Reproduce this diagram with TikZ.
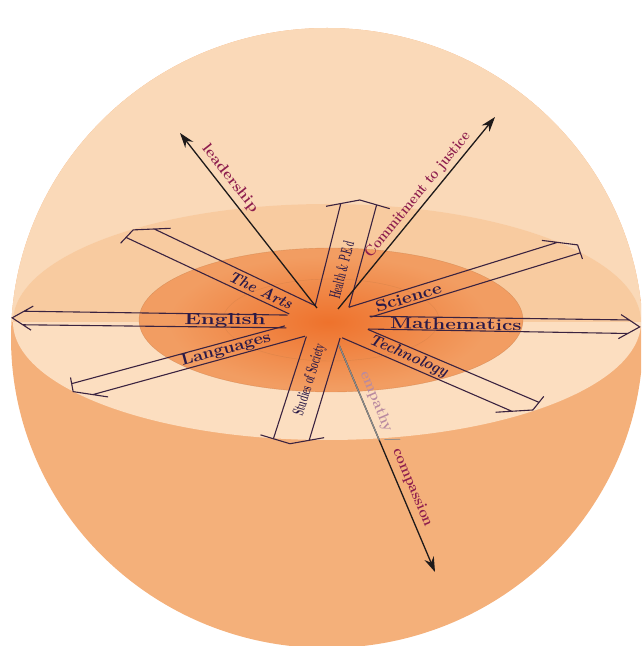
\documentclass[tikz,border=0pt]{standalone}
\usepackage{graphicx}
\usetikzlibrary{arrows.meta}
\definecolor{lowcol}{HTML}{F4B07A}
\definecolor{domecol}{HTML}{FAD9B8}
\definecolor{backcol}{HTML}{F8CBA0}
\definecolor{frontcol}{HTML}{FCDEC0}
\definecolor{corecol}{HTML}{F29D62}
\definecolor{glowcol}{HTML}{EE722C}
\definecolor{ringcol}{HTML}{C47A45}
\definecolor{shaftcol}{HTML}{3B2340}
\definecolor{subjcol}{HTML}{2A1A48}
\definecolor{valcol}{HTML}{1E1A1A}
\definecolor{vtextcol}{HTML}{8E1E4E}
\definecolor{empcol}{HTML}{B98AA0}
\definecolor{greycol}{HTML}{8A8A8A}
% #1 name, #2 angle, #3 tip radius, #4 label radius
\newcommand{\subjarrow}[4]{%
  \begin{scope}[rotate=#2]
    \coordinate (#1-in1) at (41,17);
    \coordinate (#1-in2) at (41,-17);
    \coordinate (#1-out1) at (#3-11,18);
    \coordinate (#1-out2) at (#3-11,-18);
    \coordinate (#1-tip) at (#3,0);
    \coordinate (#1-barb1) at (#3-20,32);
    \coordinate (#1-barb2) at (#3-20,-32);
    \coordinate (#1-l1) at (#4-10,0);
    \coordinate (#1-l2) at (#4+10,0);
    \draw[shaft] (#1-in1) -- (#1-out1) (#1-in2) -- (#1-out2)
      (#1-barb1) -- (#1-tip) -- (#1-barb2);
  \end{scope}}

\begin{document}
\begin{tikzpicture}[x=1pt, y=1pt,
    shaft/.style={draw=shaftcol, line width=1.1pt},
    subjlabel/.style={text=subjcol, font=\bfseries\fontsize{16}{16}\selectfont, inner sep=0pt},
    valarrow/.style={-{Stealth[length=15pt,width=10pt]}, draw=valcol, line width=1.3pt},
    vallabel/.style={text=vtextcol, font=\bfseries\fontsize{15}{15}\selectfont, inner sep=1pt}]
  \useasboundingbox (0,0) rectangle (641,646);
  \clip (0,0) rectangle (641,646);

  % sphere and equator disc
  \fill[lowcol] (327,308) ellipse (316 and 310);
  \begin{scope}
    \clip (327,308) ellipse (316 and 310);
    \fill[domecol] (0,324) rectangle (641,646);
    \fill[frontcol] (327,324) ellipse (314 and 118);
    \fill[backcol] (13,324) arc[start angle=180, end angle=0, x radius=314, y radius=118] -- cycle;
  \end{scope}
  \fill[corecol] (331,326) ellipse (192 and 72);
  \shade[inner color=glowcol, outer color=corecol] (328,324) ellipse (160 and 66);
  \draw[ringcol, line width=0.4pt, opacity=0.5] (331,326) ellipse (192 and 72);
  \draw[ringcol, line width=0.4pt, opacity=0.4] (331,326) ellipse (108 and 41);

  \coordinate (hub) at (328,324);

  % subject arrows in the plane of the disc
  \begin{scope}[shift={(hub)}, yscale=0.376]
    \subjarrow{health}{84.4}{326}{139}
    \subjarrow{science}{39.4}{323}{104}
    \subjarrow{maths}{-2.4}{312}{128}
    \subjarrow{tech}{-48.8}{311}{122}
    \subjarrow{society}{-96.7}{326}{155}
    \subjarrow{langs}{216}{315}{126}
    \subjarrow{english}{178}{316}{103}
    \subjarrow{arts}{128.5}{313}{108}
  \end{scope}
  \path (health-l1) -- (health-l2) node[midway, sloped, subjlabel] (health-lab) {\scalebox{0.48}[1]{Health \& P.E.d}};
  \path (science-l1) -- (science-l2) node[midway, sloped, subjlabel] (science-lab) {\scalebox{1.19}[1]{Science}};
  \path (maths-l1) -- (maths-l2) node[midway, sloped, subjlabel] (maths-lab) {\scalebox{1.29}[1]{Mathematics}};
  \path (tech-l1) -- (tech-l2) node[midway, sloped, subjlabel] (tech-lab) {\scalebox{0.96}[1]{\itshape Technology}};
  \path (society-l1) -- (society-l2) node[midway, sloped, subjlabel] (society-lab) {\scalebox{0.53}[1]{Studies of Society}};
  \path (langs-l1) -- (langs-l2) node[midway, sloped, subjlabel] (langs-lab) {\scalebox{1.13}[1]{Languages}};
  \path (english-l1) -- (english-l2) node[midway, sloped, subjlabel] (english-lab) {\scalebox{1.4}[1]{English}};
  \path (arts-l1) -- (arts-l2) node[midway, sloped, subjlabel] (arts-lab) {\scalebox{0.95}[1]{\itshape The Arts}};

  % values
  \coordinate (lead-s) at (317,338);
  \coordinate (lead-e) at (180,513);
  \coordinate (just-s) at (338,337);
  \coordinate (just-e) at (495,529);
  \coordinate (emp-s) at (339,301);
  \coordinate (emp-e) at (435,74);
  \draw[valarrow] (lead-s) -- (lead-e)
    node[pos=0.7, sloped, above=3pt, vallabel] (lead-lab) {\scalebox{1.1}[1]{leadership}};
  \draw[valarrow] (just-s) -- (just-e)
    node[pos=0.56, sloped, above=2pt, vallabel] (just-lab) {\scalebox{0.92}[1]{Commitment to justice}};
  \draw[valarrow] (emp-s) -- coordinate[pos=0.42] (emp-m) (emp-e)
    node[pos=0.48, sloped, above=3pt, vallabel] (emp-lab)
    {{\color{empcol}empathy} {\color{greycol}/} compassion};
  \draw[greycol, line width=1.3pt] (emp-s) -- (emp-m);
\end{tikzpicture}
\end{document}
